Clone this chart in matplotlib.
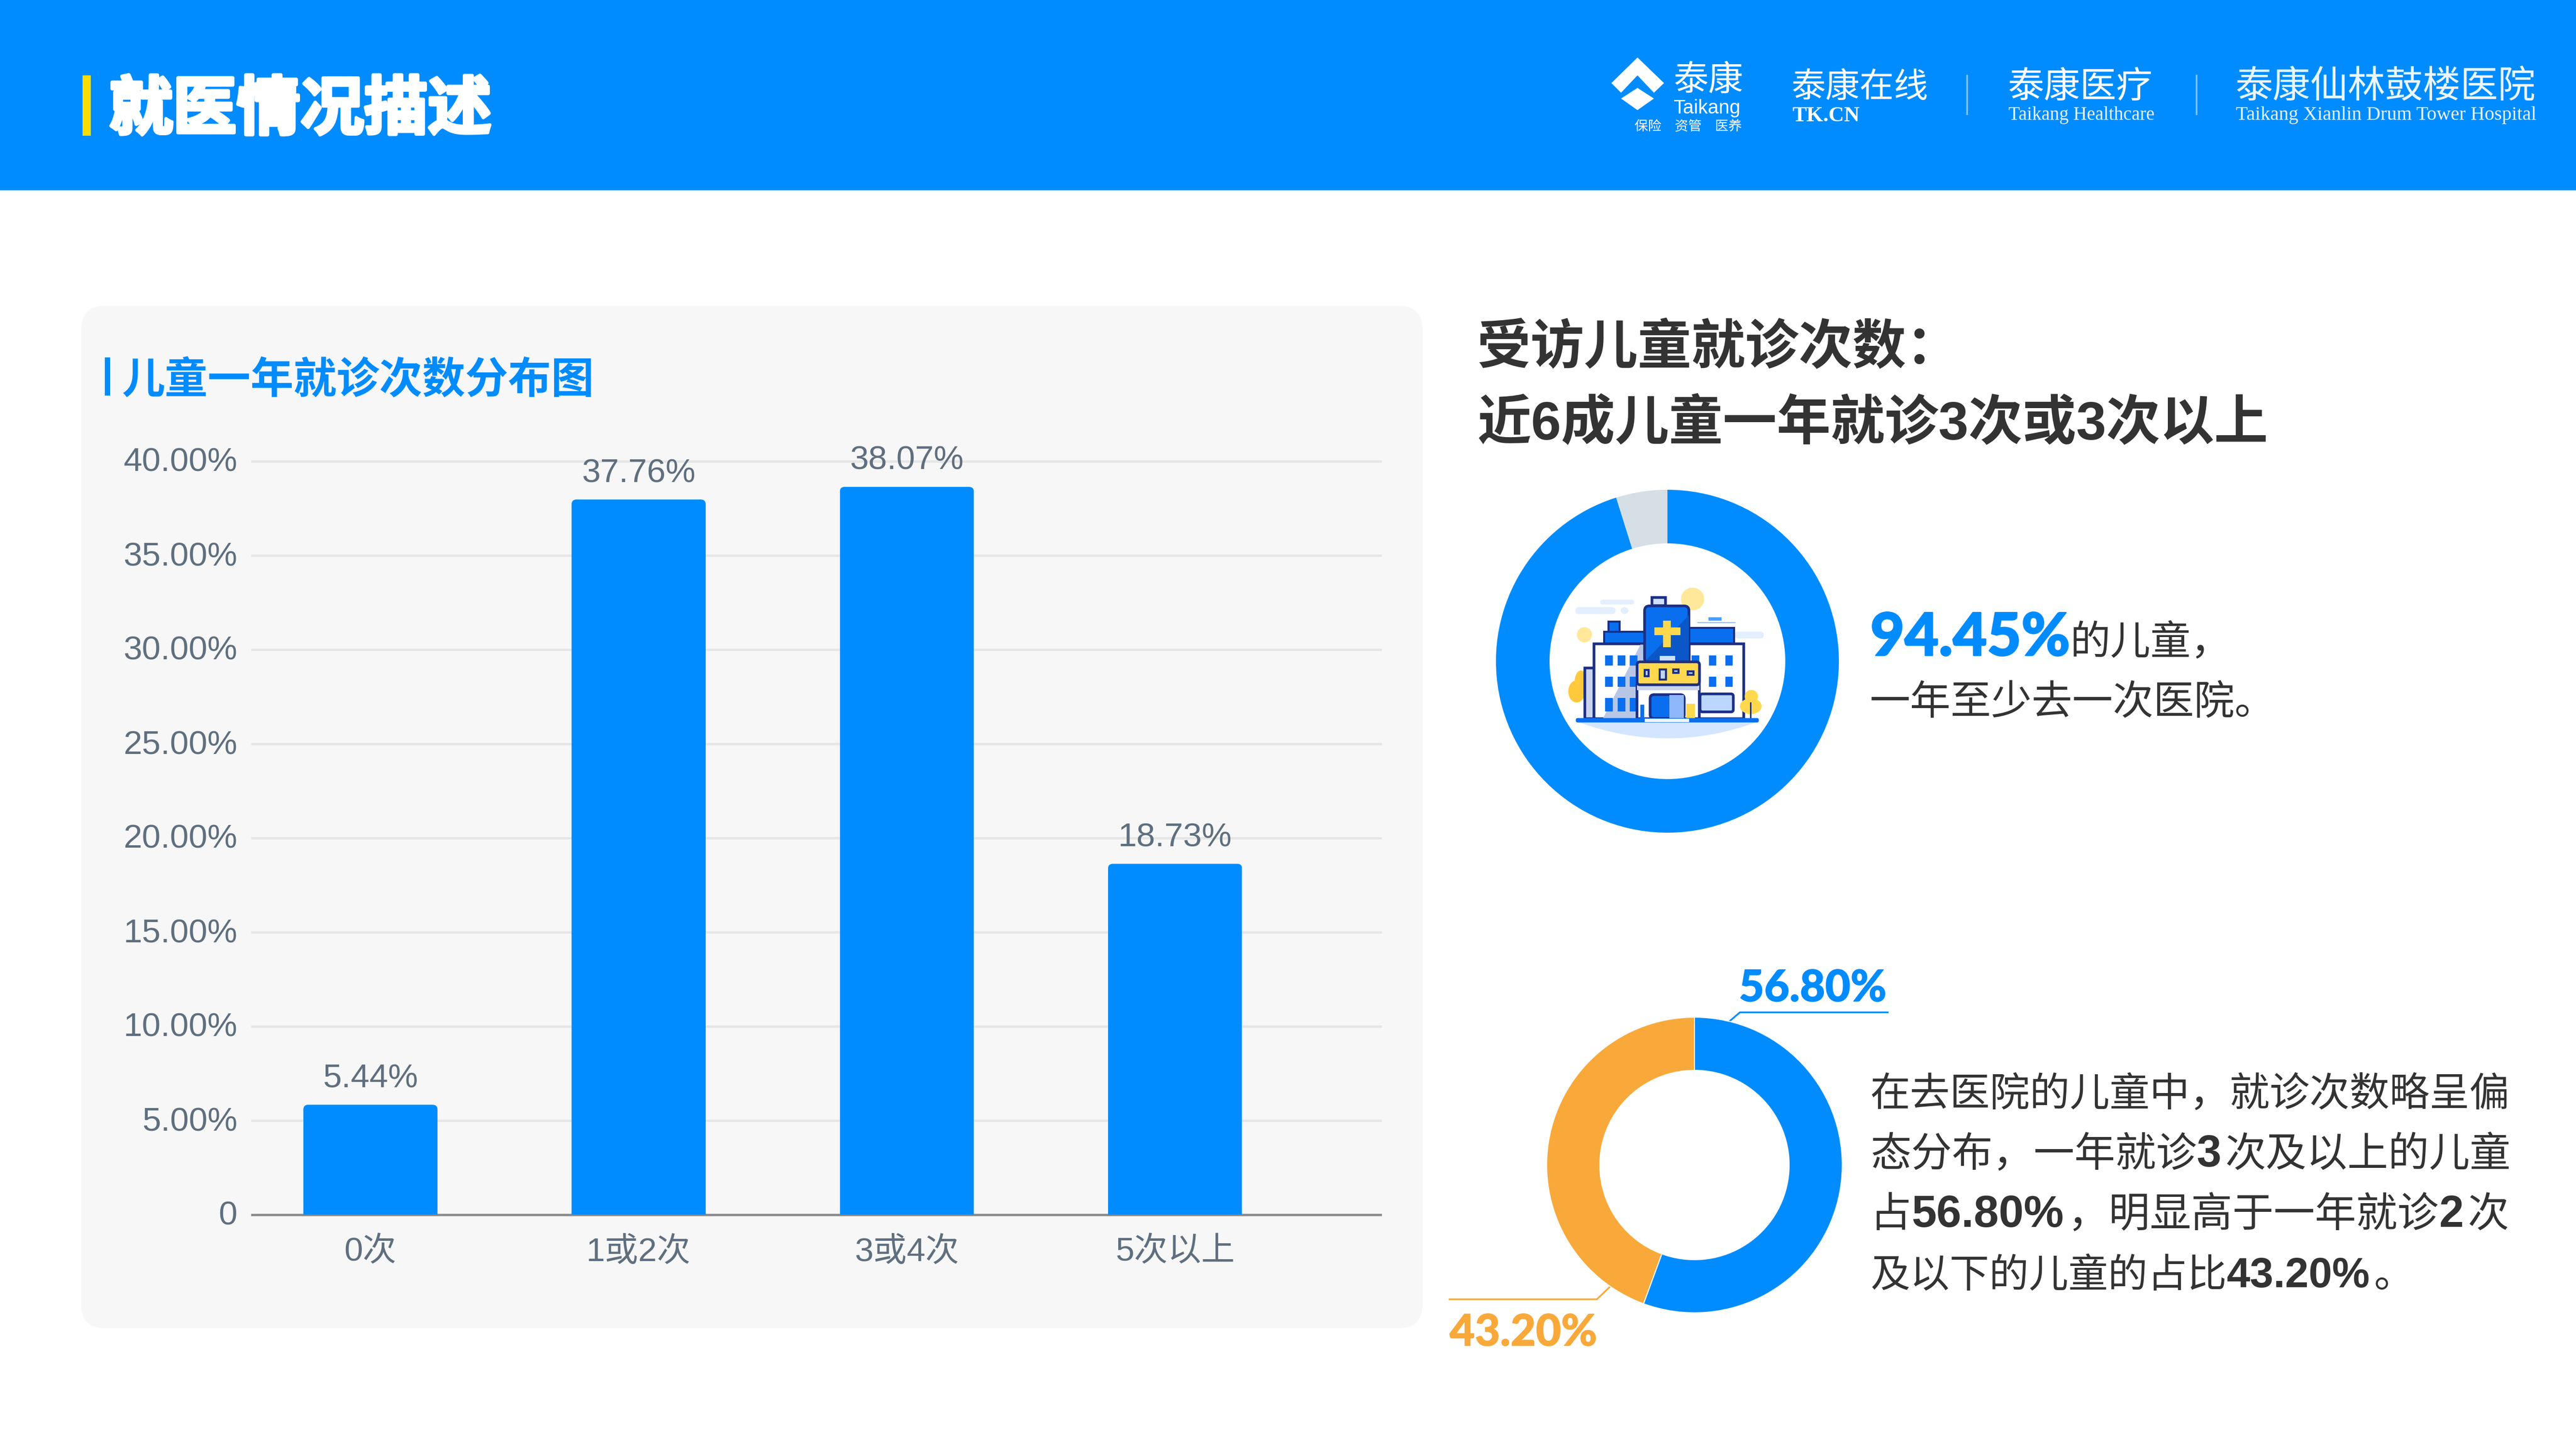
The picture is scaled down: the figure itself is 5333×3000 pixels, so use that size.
import matplotlib
matplotlib.use("Agg")
import matplotlib.pyplot as plt
import matplotlib.patheffects as pe
from matplotlib.patches import Rectangle, FancyBboxPatch, Ellipse, Polygon, PathPatch
from matplotlib.path import Path
from matplotlib.transforms import ScaledTranslation

# ---------- data ----------
categories = ["0次", "1或2次", "3或4次", "5次以上"]
# Bar heights as drawn in the picture (they differ slightly from the printed labels)
bar_heights = [5.84, 37.97, 38.64, 18.63]
bar_labels = ["5.44%", "37.76%", "38.07%", "18.73%"]
y_ticks = [0, 5, 10, 15, 20, 25, 30, 35, 40]
y_tick_labels = ["0", "5.00%", "10.00%", "15.00%", "20.00%", "25.00%", "30.00%", "35.00%", "40.00%"]
# Donut shares as drawn in the picture
visit_shares = [95.17, 4.83]
frequency_shares = [55.6, 44.4]
frequency_labels = ["56.80%", "43.20%"]

BLUE = "#008CFF"
ORANGE = "#F9A93A"
GREY_TXT = "#5F6F7F"
DARK = "#333333"
W, H = 5333, 3000
CJK = "Noto Sans CJK SC"
MIX = ["Liberation Sans", CJK]
SERIF = ["Liberation Serif", CJK]
HEAVY = ["Lato", "Noto Sans"]

fig = plt.figure(figsize=(W / 100, H / 100), dpi=100, facecolor="white")
bg = fig.add_axes([0, 0, 1, 1])
bg.set_xlim(0, W)
bg.set_ylim(H, 0)
bg.axis("off")


def T(x, cy, s, size, color=DARK, weight="normal", family=MIX, ha="left", base=None, stroke=0, **kw):
    """Place text by the vertical centre of its CJK em box (pixels)."""
    px = size * 100 / 72
    y = base if base is not None else cy + 0.38 * px
    t = bg.text(x, y, s, fontsize=size, color=color, fontweight=weight, family=family,
                ha=ha, va="baseline", zorder=20, **kw)
    if stroke:
        t.set_path_effects([pe.withStroke(linewidth=stroke, foreground=color)])
    return t


def chain(x, cy, parts, size):
    """Lay a justified line out piece by piece: (text, bold, size of the piece)."""
    r = fig.canvas.get_renderer()
    for s, bold, seg in parts:
        sz = seg or size
        t = T(x, cy, s, sz, weight="bold" if bold else "normal", base=cy + 0.38 * size * 100 / 72)
        if bold:
            x += t.get_window_extent(r).width + 8
        else:
            x += len(s) * sz * 100 / 72


def pax(cx, cy, r):
    a = fig.add_axes([(cx - r) / W, 1 - (cy + r) / H, 2 * r / W, 2 * r / H])
    a.set_xlim(-1, 1)
    a.set_ylim(-1, 1)
    a.axis("off")
    return a


# ---------- header ----------
bg.add_patch(Rectangle((0, 0), W, 394, fc=BLUE, ec="none"))
bg.add_patch(Rectangle((171, 156), 17, 125, fc="#FFDC00", ec="none"))
T(226, 217, "就医情况描述", 95, color="white", weight="bold", family=[CJK], stroke=5)

# logo mark
bg.add_patch(Polygon([(3390, 119), (3336, 172), (3356, 192), (3390, 156), (3424, 192), (3445, 172)],
                     fc="white", ec="none", zorder=5))
bg.add_patch(Polygon([(3390, 182), (3424, 204), (3390, 228), (3356, 204)], fc="white", ec="none", zorder=5))
T(3464, 160, "泰康", 52, color="white", family=[CJK])
T(3534, 220, "Taikang", 29, color="white", ha="center", family=MIX)
T(3606, 260, "保险　资管　医养", 20, color="white", ha="right", family=[CJK])
T(3708, 174, "泰康在线", 51, color="white", family=[CJK])
T(3710, 236, "TK.CN", 32, color="white", weight="bold", family=SERIF, base=251)
bg.plot([4072, 4072], [156, 236], color="#80C5FF", lw=2.5, zorder=5)
T(4156, 173, "泰康医疗", 54, color="white", family=[CJK])
T(4158, 237, "Taikang Healthcare", 28, color="#E6F3FF", family=SERIF, base=248)
bg.plot([4547, 4547], [156, 236], color="#80C5FF", lw=2.5, zorder=5)
T(4627, 172, "泰康仙林鼓楼医院", 56, color="#EAF5FF", family=[CJK])
T(4629, 237, "Taikang Xianlin Drum Tower Hospital", 29, color="#E6F3FF", family=SERIF, base=248)

# ---------- left panel ----------
bg.add_patch(FancyBboxPatch((168 + 50, 633 + 50), 2945 - 168 - 100, 2750 - 633 - 100,
                            boxstyle="round,pad=50,rounding_size=50", fc="#F7F7F7", ec="none"))
bg.add_patch(Rectangle((217, 740), 11, 79, fc=BLUE, ec="none", zorder=5))
T(252, 780, "儿童一年就诊次数分布图", 64, color=BLUE, weight="bold", family=[CJK])

# ---------- bar chart ----------
L, R, TOP, BOT = 522, 2858, 955, 2515
ax = fig.add_axes([L / W, 1 - BOT / H, (R - L) / W, (BOT - TOP) / H])
ax.patch.set_alpha(0)
ax.set_xlim(-0.441, 3.766)
ax.set_ylim(0, 40)
xs = list(range(len(categories)))
bars = ax.bar(xs, bar_heights, width=0.5, color=BLUE, zorder=3)
for bar in bars:
    clip = FancyBboxPatch((bar.get_x(), -1), bar.get_width(), bar.get_height() + 1,
                          boxstyle="round,pad=0,rounding_size=0.018", mutation_aspect=14.2,
                          transform=ax.transData)
    bar.set_clip_path(clip)
for x, h, s in zip(xs, bar_heights, bar_labels):
    ax.annotate(s, (x, h), xytext=(0, 26), textcoords="offset points", ha="center", va="baseline",
                fontsize=50, color=GREY_TXT, family=MIX, zorder=6, annotation_clip=False)
ax.set_xticks(xs)
ax.set_xticklabels(categories, fontsize=50, color=GREY_TXT, family=MIX)
ax.set_yticks(y_ticks)
ax.set_yticklabels(y_tick_labels, fontsize=50, color=GREY_TXT, family=MIX)
ax.tick_params(axis="both", length=0)
ax.tick_params(axis="y", pad=22)
ax.tick_params(axis="x", pad=33)
ax.grid(axis="y", color="#E6E6E6", lw=3.6, zorder=0)
ax.set_axisbelow(True)
for g in ax.get_ygridlines():
    g.set_clip_on(False)
for lab in ax.get_yticklabels():
    lab.set_transform(lab.get_transform() + ScaledTranslation(0, 0.04, fig.dpi_scale_trans))
for side in ("top", "left", "right"):
    ax.spines[side].set_visible(False)
ax.spines["bottom"].set_color("#8E8E8E")
ax.spines["bottom"].set_linewidth(3.6)
ax.spines["bottom"].set_zorder(2)

# ---------- right headline ----------
T(3058, 711, "受访儿童就诊次数：", 80, weight="bold")
T(3058, 867, "近6成儿童一年就诊3次或3次以上", 80.4, weight="bold")

# ---------- donut 1 ----------
d1 = pax(3452, 1369, 355)
d1.pie(visit_shares, colors=[BLUE, "#D6DEE6"], startangle=90, counterclock=False, radius=1,
       wedgeprops=dict(width=1 - 244 / 355, linewidth=0))
d1.set_xlim(-1, 1)
d1.set_ylim(-1, 1)


# hospital illustration (coordinates of the decorative drawing)
def P(x, y):
    return 3000 + x / 1.742, 980 + y / 1.96


def box(x0, y0, x1, y1, fc, ec="none", lw=0, z=8, r=0):
    a, b = P(x0, y0)
    c, d = P(x1, y1)
    if r:
        bg.add_patch(FancyBboxPatch((a + r, b + r), c - a - 2 * r, d - b - 2 * r,
                                    boxstyle=f"round,pad={r},rounding_size={r}", fc=fc, ec=ec, lw=lw, zorder=z))
    else:
        bg.add_patch(Rectangle((a, b), c - a, d - b, fc=fc, ec=ec, lw=lw, zorder=z))


def oval(x, y, rx, ry, fc, z=7):
    a, b = P(x, y)
    bg.add_patch(Ellipse((a, b), 2 * rx / 1.742, 2 * ry / 1.96, fc=fc, ec="none", zorder=z))


NAVY = "#1B2F85"
MID = "#0A6FEF"
YEL = "#FFD84D"
oval(878, 510, 42, 46, "#FFE89A")
oval(488, 655, 27, 31, "#FFE89A")
box(455, 543, 600, 571, "#E3EFFF", r=7, z=7)
box(545, 513, 667, 532, "#E3EFFF", r=5, z=7)
oval(633, 557, 14, 14, "#E3EFFF")
box(1030, 642, 1135, 670, "#E3EFFF", r=7, z=7)
box(935, 585, 982, 598, "#4D9EFF", z=7)
box(895, 603, 1033, 607, "#8FBEFF", z=7)
oval(460, 885, 30, 45, "#FFC93C")
oval(475, 845, 22, 45, "#FFC93C")
box(490, 790, 522, 995, "#C9D4EE", NAVY, 4, z=8)
box(522, 692, 705, 995, "white", NAVY, 4, z=8)
box(865, 692, 1063, 995, "white", NAVY, 4, z=8)
bg.add_patch(Polygon([P(555, 995), P(690, 695), P(705, 695), P(705, 995)], fc="#B8C6E6", ec="none", zorder=8.2))
box(560, 643, 705, 692, MID, NAVY, 3, z=7.5)
box(575, 601, 615, 643, MID, NAVY, 3, z=7.5)
box(865, 628, 1028, 692, MID, NAVY, 3, z=7.5)
box(732, 503, 780, 538, "#CFE0FF", NAVY, 4, z=8.5)
box(705, 538, 865, 770, MID, NAVY, 4, z=8.5, r=10)
bg.add_patch(Polygon([P(705, 765), P(865, 575), P(865, 770)], fc="#0B57C7", ec="none", zorder=8.6))
box(772, 597, 800, 705, YEL, z=9)
box(741, 625, 834, 657, YEL, z=9)
box(760, 740, 815, 765, "#CFE0FF", z=9)
for wx in (563, 608, 652):
    for wy0, wy1 in ((738, 780), (825, 866), (912, 966)):
        box(wx, wy0, wx + 28, wy1, MID, z=9)
for wx in (875, 937, 996):
    for wy0, wy1 in ((738, 780), (825, 866)):
        box(wx, wy0, wx + 27, wy1, MID, z=9)
box(678, 858, 903, 995, "white", NAVY, 4, z=9.5)
box(678, 858, 903, 880, "#CAD5EA", z=9.6)
box(678, 765, 903, 858, YEL, NAVY, 4, z=9.6, r=6)
for a0, a1, b0, b1 in ((705, 720, 798, 824), (760, 782, 796, 836), (808, 828, 795, 809), (861, 881, 804, 818)):
    box(a0, b0, a1, b1, "#BFD3F5", NAVY, 3, z=9.8)
box(725, 898, 848, 995, MID, NAVY, 4, z=9.8, r=8)
box(795, 900, 846, 995, "#8FB8FA", z=9.9)
box(905, 895, 1025, 968, "#BBD7FF", NAVY, 4, z=9.5, r=5)
box(855, 935, 886, 995, YEL, z=10)
box(690, 938, 703, 995, MID, z=10)
oval(1088, 945, 39, 32, YEL, z=10)
oval(1090, 905, 24, 26, YEL, z=10)
box(1086, 930, 1091, 995, NAVY, z=10.2)
box(457, 993, 1117, 1011, MID, z=11, r=4)
_a, _b = P(470, 1011)
_c, _d = P(790, 1140)
_e, _f = P(1105, 1011)
bg.add_patch(PathPatch(Path([(_a, _b), (_c, _d), (_e, _f), (_a, _b)],
                            [Path.MOVETO, Path.CURVE3, Path.CURVE3, Path.CLOSEPOLY]),
                       fc="#D3E5FF", ec="none", zorder=7))
box(705, 995, 865, 1010, "#F2F6FF", z=11.2)

# text beside donut 1
T(3872, 0, "94.45%", 88, color=BLUE, weight=900, family=HEAVY, base=1357, stroke=2)
T(4286, 1323, "的儿童，", 60)
T(3870, 1447, "一年至少去一次医院。", 60.5)

# ---------- donut 2 ----------
d2 = pax(3508, 2412, 306)
d2.pie(frequency_shares, colors=[BLUE, ORANGE], startangle=90, counterclock=False, radius=1,
       wedgeprops=dict(width=1 - 196 / 306, linewidth=1.5, edgecolor="white"))
d2.set_xlim(-1, 1)
d2.set_ylim(-1, 1)

bg.plot([3581, 3602, 3908], [2114, 2096, 2096], color=BLUE, lw=2.5, zorder=6, solid_joinstyle="miter")
bg.plot([3333, 3306, 3001], [2664, 2690, 2690], color=ORANGE, lw=2.5, zorder=6, solid_joinstyle="miter")
T(3600, 0, frequency_labels[0], 65, color=BLUE, weight=900, family=HEAVY, base=2073, stroke=1)
T(3001, 0, frequency_labels[1], 65, color=ORANGE, weight=900, family=HEAVY, base=2786, stroke=1)

chain(3872, 2258, [("在去医院的儿童中，就诊次数略呈偏", False, 59.6)], 60)
chain(3872, 2383, [("态分布，一年就诊", False, 60.8), ("3", True, 66), ("次及以上的儿童", False, 60.8)], 60)
chain(3872, 2508, [("占", False, 61.5), ("56.80%", True, 67), ("，明显高于一年就诊", False, 61.5),
                   ("2", True, 66), ("次", False, 61.5)], 60)
chain(3872, 2633, [("及以下的儿童的占比", False, 59), ("43.20%", True, 63), ("。", False, 60)], 60)

fig.savefig("out.png", dpi=100)
